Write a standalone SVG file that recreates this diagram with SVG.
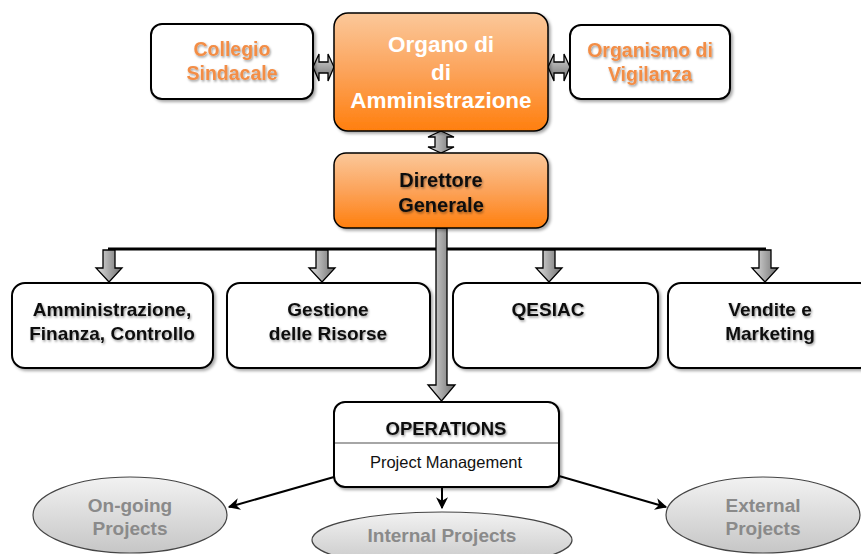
<svg xmlns="http://www.w3.org/2000/svg" width="861" height="554" viewBox="0 0 861 554">
<defs>
<linearGradient id="orange" x1="0" y1="0" x2="0" y2="1">
<stop offset="0" stop-color="#fbc89a"/>
<stop offset="0.5" stop-color="#fca35a"/>
<stop offset="1" stop-color="#ff7f0e"/>
</linearGradient>
<linearGradient id="grayH" x1="0" y1="0" x2="1" y2="0">
<stop offset="0" stop-color="#e2e2e2"/>
<stop offset="1" stop-color="#6e6e6e"/>
</linearGradient>
<linearGradient id="grayV" x1="0" y1="0" x2="0" y2="1">
<stop offset="0" stop-color="#d8d8d8"/>
<stop offset="1" stop-color="#6e6e6e"/>
</linearGradient>
<linearGradient id="ell" x1="0" y1="0" x2="0" y2="1">
<stop offset="0" stop-color="#f2f2f2"/>
<stop offset="1" stop-color="#c6c6c6"/>
</linearGradient>
<filter id="sh" x="-10%" y="-10%" width="125%" height="130%">
<feDropShadow dx="2" dy="2" stdDeviation="1.5" flood-color="#000" flood-opacity="0.35"/>
</filter>
<filter id="tsh" x="-10%" y="-20%" width="125%" height="150%">
<feDropShadow dx="1" dy="1.5" stdDeviation="1" flood-color="#000" flood-opacity="0.4"/>
</filter>
<marker id="ah" viewBox="0 0 10 10" refX="9" refY="5" markerWidth="6" markerHeight="6" orient="auto">
<path d="M0,0 L10,5 L0,10 L3,5 Z" fill="#000"/>
</marker>
</defs>
<style>
.box{fill:#fff;stroke:#000;stroke-width:2;filter:url(#sh)}
.obox{fill:url(#orange);stroke:#000;stroke-width:1.5;filter:url(#sh)}
.t{font-family:"Liberation Sans",Arial,sans-serif;font-weight:bold;text-anchor:middle}
.blk{fill:#111;font-size:19px;filter:url(#tsh)}
.org{fill:#f38d45;font-size:19.5px;filter:url(#tsh)}
.wht{fill:#fff;font-size:22.5px}
.gry{fill:#8a8a8a;font-size:19px}
.ell{fill:url(#ell);stroke:#444;stroke-width:1.2}
.barr{fill:url(#grayH);stroke:#000;stroke-width:1.3}
.varr{fill:url(#grayV);stroke:#000;stroke-width:1.3}
.ln{stroke:#000;stroke-width:2;fill:none}
</style>

<g id="connectors">
<line x1="108" y1="249" x2="766" y2="249" stroke="#000" stroke-width="3"/>
<path class="barr" d="M103,250 L115,250 L115,268 L122,268 L109,282 L96,268 L103,268 Z"/>
<path class="barr" d="M316,250 L328,250 L328,268 L335,268 L322,282 L309,268 L316,268 Z"/>
<path class="barr" d="M543,250 L555,250 L555,268 L562,268 L549,282 L536,268 L543,268 Z"/>
<path class="barr" d="M759,250 L771,250 L771,268 L778,268 L765,282 L752,268 L759,268 Z"/>
<path class="barr" d="M436,228 L447,228 L447,385 L455,385 L441.5,401 L428,385 L436,385 Z"/>
<path class="varr" d="M313,67 L319,54 L319,62 L328,62 L328,54 L334,67 L328,81 L328,73 L319,73 L319,81 Z"/>
<path class="varr" d="M548,67 L554,54 L554,62 L564,62 L564,54 L570,67 L564,81 L564,73 L554,73 L554,81 Z"/>
<path class="barr" d="M441,131 L454,137 L447,137 L447,147 L454,147 L441,153 L428,147 L435,147 L435,137 L428,137 Z"/>
<line class="ln" x1="334" y1="477" x2="229" y2="507" marker-end="url(#ah)"/>
<line class="ln" x1="442" y1="487" x2="442" y2="508" marker-end="url(#ah)"/>
<line class="ln" x1="559" y1="476" x2="666" y2="507" marker-end="url(#ah)"/>
</g>

<g id="collegio">
<rect class="box" x="151" y="24" width="162" height="75" rx="11"/>
<text class="t org" x="232" y="56">Collegio</text>
<text class="t org" x="232" y="80">Sindacale</text>
</g>

<g id="organo">
<rect class="obox" x="334" y="13" width="214" height="118" rx="14"/>
<text class="t wht" x="441" y="52">Organo di</text>
<text class="t wht" x="441" y="80">di</text>
<text class="t wht" x="441" y="108">Amministrazione</text>
</g>

<g id="organismo">
<rect class="box" x="570" y="25" width="160" height="74" rx="11" stroke-width="2.5"/>
<text class="t org" x="650" y="57">Organismo di</text>
<text class="t org" x="650" y="81">Vigilanza</text>
</g>

<g id="direttore">
<rect class="obox" x="334" y="153" width="214" height="75" rx="12"/>
<text class="t blk" x="441" y="187" style="font-size:20px">Direttore</text>
<text class="t blk" x="441" y="212" style="font-size:20px">Generale</text>
</g>

<g id="afc">
<rect class="box" x="12" y="283" width="201" height="85" rx="13"/>
<text class="t blk" x="112" y="316">Amministrazione,</text>
<text class="t blk" x="112" y="340">Finanza, Controllo</text>
</g>

<g id="risorse">
<rect class="box" x="227" y="283" width="203" height="85" rx="13"/>
<text class="t blk" x="328" y="316">Gestione</text>
<text class="t blk" x="328" y="340">delle Risorse</text>
</g>

<g id="qesiac">
<rect class="box" x="453" y="283" width="205" height="85" rx="13"/>
<text class="t blk" x="548" y="316">QESIAC</text>
</g>

<g id="vendite">
<rect class="box" x="668" y="283" width="205" height="85" rx="13"/>
<text class="t blk" x="770" y="316">Vendite e</text>
<text class="t blk" x="770" y="340">Marketing</text>
</g>

<g id="operations">
<rect class="box" x="334" y="402" width="225" height="85" rx="11"/>
<line x1="335" y1="443" x2="558" y2="443" stroke="#888" stroke-width="1.5"/>
<text class="t blk" x="446" y="435" style="font-size:18.5px">OPERATIONS</text>
<text x="446" y="468" style="font-family:'Liberation Sans',Arial,sans-serif;font-size:16.5px;fill:#111;text-anchor:middle">Project Management</text>
</g>

<g id="ongoing">
<ellipse class="ell" cx="130" cy="515" rx="97" ry="38"/>
<text class="t gry" x="130" y="512">On-going</text>
<text class="t gry" x="130" y="535">Projects</text>
</g>

<g id="internal">
<ellipse class="ell" cx="442" cy="540" rx="130" ry="28"/>
<text class="t gry" x="442" y="542">Internal Projects</text>
</g>

<g id="external">
<ellipse class="ell" cx="763" cy="515" rx="97" ry="38"/>
<text class="t gry" x="763" y="512">External</text>
<text class="t gry" x="763" y="535">Projects</text>
</g>
</svg>
